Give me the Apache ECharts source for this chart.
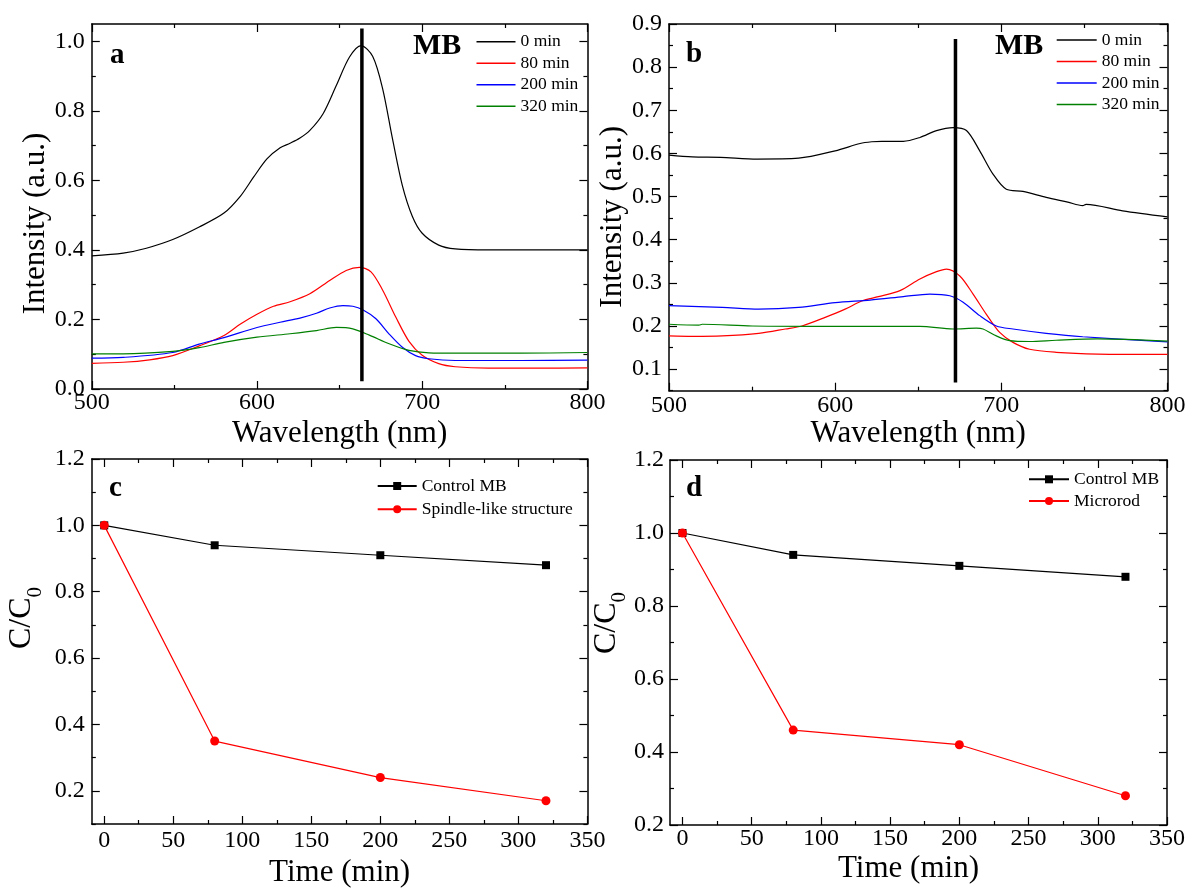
<!DOCTYPE html>
<html><head><meta charset="utf-8">
<script src="https://cdn.jsdelivr.net/npm/echarts@6/dist/echarts.min.js"></script>
<style>html,body{margin:0;padding:0;background:#fff}#c{width:1187px;height:888px}</style>
</head><body><div id="c"></div>
<script>
// ---------- data ----------
const wlTicks = [500, 600, 700, 800];
const wlMinor = [550, 650, 750];
const timeTicks = [0, 50, 100, 150, 200, 250, 300, 350];
const timeMinor = [25, 75, 125, 175, 225, 275, 325];
const yTicksA = [0, 0.2, 0.4, 0.6, 0.8, 1.0];
const yMinorA = [0.1, 0.3, 0.5, 0.7, 0.9];
const yTicksB = [0.1, 0.2, 0.3, 0.4, 0.5, 0.6, 0.7, 0.8, 0.9];
const yMinorB = [0.05, 0.15, 0.25, 0.35, 0.45, 0.55, 0.65, 0.75, 0.85];
const yTicksCD = [0.2, 0.4, 0.6, 0.8, 1.0, 1.2];
const yMinorC = [0.1, 0.3, 0.5, 0.7, 0.9, 1.1];
const yMinorD = [0.3, 0.5, 0.7, 0.9, 1.1];
const curveNames = ['0 min', '80 min', '200 min', '320 min'];

// panel a spectra [wavelength, intensity]
const a0 = [[500,0.383],[519,0.391],[533,0.405],[549,0.430],[565,0.466],[580,0.506],[590,0.555],[598,0.610],[606,0.662],[614,0.694],[620,0.707],[626,0.722],[632,0.744],[640,0.792],[648,0.873],[656,0.955],[663,0.988],[670,0.957],[676,0.865],[682,0.720],[688,0.585],[694,0.497],[700,0.448],[710,0.414],[720,0.403],[740,0.400],[770,0.400],[800,0.400]];
const a80 = [[500,0.074],[519,0.077],[535,0.084],[549,0.096],[565,0.124],[580,0.154],[590,0.187],[600,0.215],[610,0.238],[620,0.251],[632,0.274],[644,0.312],[654,0.341],[662,0.350],[669,0.337],[676,0.285],[684,0.207],[692,0.137],[700,0.097],[710,0.073],[720,0.064],[740,0.060],[770,0.060],[800,0.061]];
const a200 = [[500,0.089],[519,0.091],[549,0.105],[565,0.129],[580,0.148],[600,0.177],[614,0.192],[626,0.204],[636,0.218],[644,0.233],[652,0.240],[658,0.238],[664,0.228],[672,0.202],[680,0.158],[688,0.120],[696,0.096],[704,0.087],[720,0.082],[760,0.082],[800,0.083]];
const a320 = [[500,0.101],[519,0.101],[549,0.108],[565,0.119],[580,0.134],[600,0.149],[620,0.159],[636,0.168],[648,0.177],[658,0.173],[668,0.155],[680,0.130],[692,0.111],[704,0.104],[720,0.103],[760,0.103],[800,0.105]];
// panel b spectra
const b0 = [[500,0.596],[514,0.592],[531,0.591],[553,0.587],[578,0.589],[600,0.606],[615,0.623],[622,0.627],[628,0.628],[641,0.628],[651,0.637],[661,0.653],[671,0.660],[679,0.653],[687,0.606],[695,0.552],[703,0.517],[713,0.512],[727,0.498],[740,0.487],[749,0.479],[751,0.482],[773,0.467],[800,0.453]];
const b80 = [[500,0.177],[514,0.176],[532,0.177],[554,0.183],[570,0.193],[580,0.200],[594,0.220],[606,0.239],[616,0.258],[626,0.268],[639,0.282],[651,0.309],[661,0.326],[667,0.332],[675,0.316],[683,0.274],[691,0.227],[699,0.185],[707,0.162],[717,0.146],[733,0.139],[758,0.135],[800,0.134]];
const b200 = [[500,0.247],[532,0.243],[554,0.239],[578,0.243],[600,0.254],[621,0.260],[641,0.268],[657,0.274],[669,0.270],[677,0.255],[687,0.224],[697,0.200],[707,0.193],[727,0.183],[749,0.175],[800,0.163]];
const b320 = [[500,0.204],[518,0.202],[520,0.204],[550,0.200],[600,0.199],[651,0.199],[671,0.193],[685,0.195],[689,0.193],[697,0.177],[705,0.166],[717,0.164],[733,0.167],[758,0.170],[800,0.165]];
// marker lines
const markA = [[663.5,0.022],[663.5,1.037]];
const markB = [[672.4,0.069],[672.4,0.865]];
// panels c, d
const time = [0, 80, 200, 320];
const controlC = [1.0, 0.94, 0.91, 0.88];
const spindle = [1.0, 0.35, 0.24, 0.17];
const controlD = [1.0, 0.94, 0.91, 0.88];
const microrod = [1.0, 0.46, 0.42, 0.28];

// ---------- helpers ----------
const F = "'Liberation Serif','Times New Roman',serif";
const BLK = '#000';
const zip = (xs, ys) => xs.map((x, i) => [x, ys[i]]);

function xAxes(gi, min, max, major, minor, o) {
  const base = { type: 'value', gridIndex: gi, min, max, splitLine: { show: false } };
  const line = { show: true, onZero: false, lineStyle: { color: BLK, width: 1.5 } };
  const noLine = { show: false, onZero: false };
  const tk = (vals, len) => ({ show: true, inside: true, length: len, customValues: vals, lineStyle: { color: BLK, width: 1.2 } });
  return [
    Object.assign({}, base, {
      position: 'bottom', axisLine: line, axisTick: tk(major, 8),
      axisLabel: { show: true, customValues: major, formatter: v => String(Math.round(v)), margin: o.margin, color: BLK, fontFamily: F, fontSize: 24 },
      name: o.name, nameLocation: 'middle', nameGap: o.gap,
      nameTextStyle: { fontFamily: F, fontSize: 31, color: BLK, padding: o.pad || 0 }
    }),
    Object.assign({}, base, { position: 'bottom', axisLine: noLine, axisTick: tk(minor, 4), axisLabel: { show: false } }),
    Object.assign({}, base, { position: 'top', axisLine: line, axisTick: tk(major, 8), axisLabel: { show: false } }),
    Object.assign({}, base, { position: 'top', axisLine: noLine, axisTick: tk(minor, 4), axisLabel: { show: false } })
  ];
}
function yAxes(gi, min, max, major, minor, o) {
  const base = { type: 'value', gridIndex: gi, min, max, splitLine: { show: false } };
  const line = { show: true, onZero: false, lineStyle: { color: BLK, width: 1.5 } };
  const noLine = { show: false, onZero: false };
  const tk = (vals, len) => ({ show: true, inside: true, length: len, customValues: vals, lineStyle: { color: BLK, width: 1.2 } });
  return [
    Object.assign({}, base, {
      position: 'left', axisLine: line, axisTick: tk(major, 8),
      axisLabel: { show: true, customValues: major, formatter: v => v.toFixed(1), margin: o.margin, color: BLK, fontFamily: F, fontSize: 24 },
      name: o.name, nameLocation: 'middle', nameGap: o.gap,
      nameTextStyle: Object.assign({ fontFamily: F, fontSize: 31, color: BLK, padding: o.pad || 0 }, o.nts || {})
    }),
    Object.assign({}, base, { position: 'left', axisLine: noLine, axisTick: tk(minor, 4), axisLabel: { show: false } }),
    Object.assign({}, base, { position: 'right', axisLine: line, axisTick: tk(major, 8), axisLabel: { show: false } }),
    Object.assign({}, base, { position: 'right', axisLine: noLine, axisTick: tk(minor, 4), axisLabel: { show: false } })
  ];
}
const subName = {
  rich: {
    m: { fontFamily: F, fontSize: 32, color: BLK, lineHeight: 48, verticalAlign: 'middle' },
    s: { fontFamily: F, fontSize: 21, color: BLK, verticalAlign: 'bottom' }
  }
};

const xAxis = [].concat(
  xAxes(0, 500, 800, wlTicks, wlMinor, { name: 'Wavelength (nm)', gap: 29, margin: 2 }),
  xAxes(1, 500, 800, wlTicks, wlMinor, { name: 'Wavelength (nm)', gap: 26, margin: 3 }),
  xAxes(2, -9, 350, timeTicks, timeMinor, { name: 'Time (min)', gap: 33, margin: 5 }),
  xAxes(3, -9, 350, timeTicks, timeMinor, { name: 'Time (min)', gap: 28, margin: 2, pad: [0, 20, 0, 0] })
);
const yAxis = [].concat(
  yAxes(0, 0, 1.05, yTicksA, yMinorA, { name: 'Intensity (a.u.)', gap: 36, margin: 7, pad: [0, 34, 0, 0] }),
  yAxes(1, 0.05, 0.9, yTicksB, yMinorB, { name: 'Intensity (a.u.)', gap: 40, margin: 7, pad: [0, 19, 0, 0] }),
  yAxes(2, 0.1, 1.2, yTicksCD, yMinorC, { name: '{m|C/C}{s|0}', gap: 46, margin: 7, pad: [0, 0, 0, 47], nts: subName }),
  yAxes(3, 0.2, 1.2, yTicksCD, yMinorD, { name: '{m|C/C}{s|0}', gap: 37, margin: 6, pad: [0, 0, 0, 39], nts: subName })
);

function curve(name, data, color, axis) {
  return { type: 'line', name, data, xAxisIndex: axis, yAxisIndex: axis, symbol: 'none', showSymbol: false,
    smooth: 0.3, lineStyle: { color, width: 1.2 }, itemStyle: { color }, z: 3 };
}
function marker(data, axis) {
  return { type: 'line', name: 'marker', data, xAxisIndex: axis, yAxisIndex: axis, symbol: 'none',
    lineStyle: { color: BLK, width: 3.5 }, z: 4, silent: true };
}
function pts(name, data, color, sym, size, axis) {
  return { type: 'line', name, data, xAxisIndex: axis, yAxisIndex: axis, symbol: sym, symbolSize: size,
    showSymbol: true, lineStyle: { color, width: 1.2 }, itemStyle: { color }, z: 3 };
}

const series = [
  curve('0 min', a0, '#000000', 0), curve('80 min', a80, '#ff0000', 0),
  curve('200 min', a200, '#0000ff', 0), curve('320 min', a320, '#008000', 0),
  marker(markA, 0),
  curve('0 min', b0, '#000000', 4), curve('80 min', b80, '#ff0000', 4),
  curve('200 min', b200, '#0000ff', 4), curve('320 min', b320, '#008000', 4),
  marker(markB, 4),
  pts('Control MB', zip(time, controlC), '#000000', 'rect', 8, 8),
  pts('Spindle-like structure', zip(time, spindle), '#ff0000', 'circle', 9, 8),
  pts('Control MB', zip(time, controlD), '#000000', 'rect', 8, 12),
  pts('Microrod', zip(time, microrod), '#ff0000', 'circle', 9, 12)
];

const legTxt = { fontFamily: F, fontSize: 17.5, color: BLK, lineHeight: 20 };
const legend = [
  { left: 476.5, top: 31.7, orient: 'vertical', padding: 0, icon: 'rect', itemWidth: 39, itemHeight: 1.5, itemGap: 1.5, data: curveNames, textStyle: legTxt, selectedMode: false },
  { left: 1056.7, top: 30, orient: 'vertical', padding: 0, icon: 'rect', itemWidth: 40, itemHeight: 1.5, itemGap: 1.5, data: curveNames, textStyle: legTxt, selectedMode: false },
  { left: 376.7, top: 476, orient: 'vertical', padding: 0, itemWidth: 39, itemHeight: 10, itemGap: 3.3, data: ['Control MB', 'Spindle-like structure'], textStyle: legTxt, selectedMode: false },
  { left: 1028, top: 469.3, orient: 'vertical', padding: 0, itemWidth: 40, itemHeight: 10, itemGap: 1.7, data: ['Control MB', 'Microrod'], textStyle: legTxt, selectedMode: false }
];

const lbl = (t, x, y, size) => ({ type: 'text', x, y, style: { text: t, font: 'bold ' + size + 'px ' + F, fill: BLK, verticalAlign: 'middle', align: 'left' }, z: 10 });

const option = {
  animation: false,
  backgroundColor: '#fff',
  grid: [
    { left: 91.8, top: 24, width: 495.6, height: 365, outerBoundsMode: 'none' },
    { left: 669, top: 24, width: 498.5, height: 366.7, outerBoundsMode: 'none' },
    { left: 91.8, top: 459, width: 495.6, height: 365, outerBoundsMode: 'none' },
    { left: 670, top: 460, width: 497, height: 365, outerBoundsMode: 'none' }
  ],
  xAxis, yAxis, series, legend,
  graphic: [
    lbl('a', 110, 56, 29), lbl('MB', 413, 46, 30),
    lbl('b', 686, 55, 29), lbl('MB', 995, 46, 30),
    lbl('c', 109, 489, 29), lbl('d', 686, 489, 29)
  ]
};
const chart = echarts.init(document.getElementById('c'), null, { renderer: 'canvas' });
chart.setOption(option);
</script></body></html>
